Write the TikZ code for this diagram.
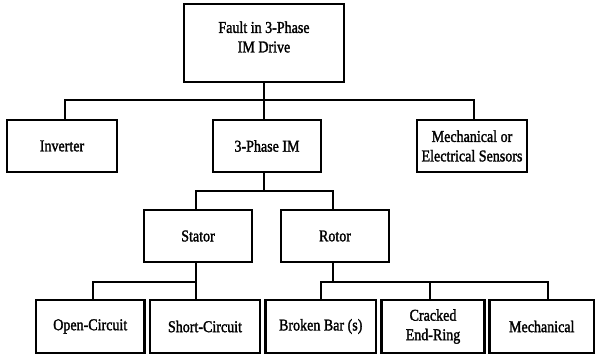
\documentclass[tikz,border=0pt]{standalone}
\usepackage{fontspec}
\setmainfont{Liberation Serif}[FakeStretch=0.85,FakeBold=1.6]
\begin{document}
\begin{tikzpicture}[x=1pt,y=-1pt,
  box/.style={draw=black, line width=2.3pt, fill=white, minimum height=52pt, inner sep=0pt},
  txt/.style={align=center, font=\fontsize{16.5}{19.5}\selectfont, inner sep=0pt},
  conn/.style={draw=black, line width=2.3pt, line cap=rect}]
\useasboundingbox (0,0) rectangle (595,358);
% boxes
\node[box, minimum width=160pt, minimum height=78pt] (top) at (264,43) {};
\node[txt] (toptxt) at (264,37) {Fault in 3-Phase\\IM Drive};
\node[box, minimum width=110pt] (inv) at (62,146) {};
\node[txt] (invtxt) at (inv) {Inverter};
\node[box, minimum width=108pt] (im) at (267,146) {};
\node[txt] (imtxt) at (im) {3-Phase IM};
\node[box, minimum width=110pt] (sens) at (472,146) {};
\node[txt] (senstxt) at (sens) {Mechanical or\\Electrical Sensors};
\node[box, minimum width=108pt] (stator) at (198,236) {};
\node[txt] (statortxt) at (stator) {Stator};
\node[box, minimum width=108pt] (rotor) at (335,236) {};
\node[txt] (rotortxt) at (rotor) {Rotor};
\node[box, minimum width=108.5pt, minimum height=53pt] (open) at (90.25,326.5) {};
\node[txt] (opentxt) at (open) {Open-Circuit};
\node[box, minimum width=110pt, minimum height=53pt] (short) at (205,326.5) {};
\node[txt] (shorttxt) at (short) {Short-Circuit};
\node[box, minimum width=110.5pt, minimum height=53pt] (broken) at (320.75,326.5) {};
\node[txt] (brokentxt) at (broken) {Broken Bar (s)};
\node[box, minimum width=103pt, minimum height=53pt] (cracked) at (433,326.5) {};
\node[txt] (crackedtxt) at (cracked) {Cracked\\End-Ring};
\node[box, minimum width=104.5pt, minimum height=53pt] (mech) at (541.75,326.5) {};
\node[txt] (mechtxt) at (mech) {Mechanical};
% connector bus points
\coordinate (b1) at (264,100);
\coordinate (dInv) at (65,100);
\coordinate (dSens) at (474,100);
\coordinate (b2) at (264,191);
\coordinate (dStator) at (196,191);
\coordinate (dRotor) at (333,191);
\coordinate (dOpen) at (93,282);
\coordinate (b3) at (196,282);
\coordinate (dBroken) at (321,282);
\coordinate (b4) at (333,282);
\coordinate (dCracked) at (430,282);
\coordinate (dMech) at (548,282);
% connectors
\draw[conn] (top.south -| b1) -- (b1);
\draw[conn] (inv.north -| dInv) -- (dInv) -- (dSens) -- (sens.north -| dSens);
\draw[conn] (b1) -- (im.north -| b1);
\draw[conn] (im.south -| b2) -- (b2);
\draw[conn] (stator.north -| dStator) -- (dStator) -- (dRotor) -- (rotor.north -| dRotor);
\draw[conn] (stator.south -| b3) -- (b3);
\draw[conn] (open.north -| dOpen) -- (dOpen) -- (b3) -- (short.north -| b3);
\draw[conn] (rotor.south -| b4) -- (b4);
\draw[conn] (broken.north -| dBroken) -- (dBroken) -- (dMech) -- (mech.north -| dMech);
\draw[conn] (cracked.north -| dCracked) -- (dCracked);
\end{tikzpicture}
\end{document}
